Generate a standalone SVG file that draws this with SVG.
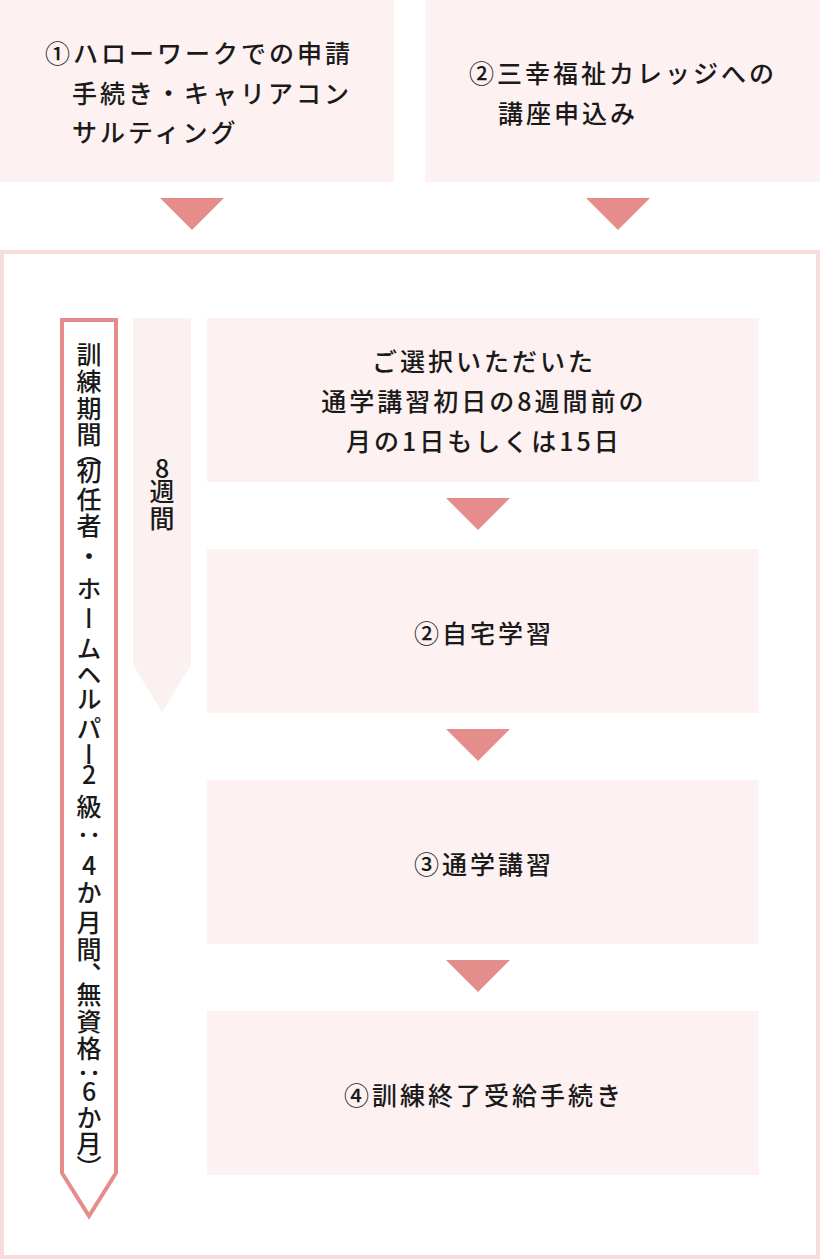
<svg xmlns="http://www.w3.org/2000/svg" width="820" height="1259" viewBox="0 0 820 1259">
<style>
.box{fill:#fdf1f1;}
.arr{fill:#e48d8a;}
.t{font-family:"Noto Sans CJK JP","Noto Sans",sans-serif;font-size:25px;font-weight:500;letter-spacing:3px;fill:#1a1a1a;}
.c{text-anchor:middle;}
.v{font-family:"Noto Sans CJK JP","Noto Sans",sans-serif;font-size:25px;font-weight:500;fill:#1a1a1a;writing-mode:vertical-rl;text-orientation:upright;}
</style>
<rect x="0" y="0" width="820" height="1259" fill="#ffffff"/>
<g id="step1">
<rect class="box" x="0" y="0" width="394" height="182"/>
<text class="t" x="45" y="63">①ハローワークでの申請</text>
<text class="t" x="72" y="103">手続き・キャリアコン</text>
<text class="t" x="72" y="142">サルティング</text>
</g>
<g id="step2">
<rect class="box" x="425" y="0" width="395" height="182"/>
<text class="t" x="469" y="83">②三幸福祉カレッジへの</text>
<text class="t" x="498" y="123">講座申込み</text>
</g>
<g id="frame">
<rect x="2" y="252" width="816" height="1005" fill="#ffffff" stroke="#f8dcdc" stroke-width="4"/>
</g>
<g id="period">
<path d="M62,320 H116 V1173 L89,1216 L62,1173 Z" fill="#ffffff" stroke="#e48d8a" stroke-width="4" stroke-linejoin="miter"/>
<text class="v" x="89" y="342 369 396 422 440 459 487 513 544 576 606 636 662 686 716 742 762 794 822 853 880 910 937 962 982 1009 1036 1060 1079 1105 1131 1155">訓練期間（初任者・ホームヘルパー2級：4か月間、無資格：6か月）</text>
</g>
<g id="weeks">
<path d="M133,318 H191 V665 L162,712 L133,665 Z" fill="#fbf1f1"/>
<text class="v" x="162" y="456 479 506">8週間</text>
</g>
<g id="start">
<rect class="box" x="207" y="318" width="552" height="164"/>
<text class="t c" x="484" y="371">ご選択いただいた</text>
<text class="t c" x="484" y="411">通学講習初日の8週間前の</text>
<text class="t c" x="484" y="451">月の1日もしくは15日</text>
</g>
<g id="home">
<rect class="box" x="207" y="549" width="552" height="164"/>
<text class="t c" x="484" y="643">②自宅学習</text>
</g>
<g id="school">
<rect class="box" x="207" y="780" width="552" height="164"/>
<text class="t c" x="484" y="874">③通学講習</text>
</g>
<g id="finish">
<rect class="box" x="207" y="1011" width="552" height="164"/>
<text class="t c" x="484" y="1105">④訓練終了受給手続き</text>
</g>
<g id="connectors">
<polygon class="arr" points="160,198 224,198 192,230"/>
<polygon class="arr" points="586,198 650,198 618,230"/>
<polygon class="arr" points="446,498 510,498 478,530"/>
<polygon class="arr" points="446,729 510,729 478,761"/>
<polygon class="arr" points="446,960 510,960 478,992"/>
</g>
</svg>
